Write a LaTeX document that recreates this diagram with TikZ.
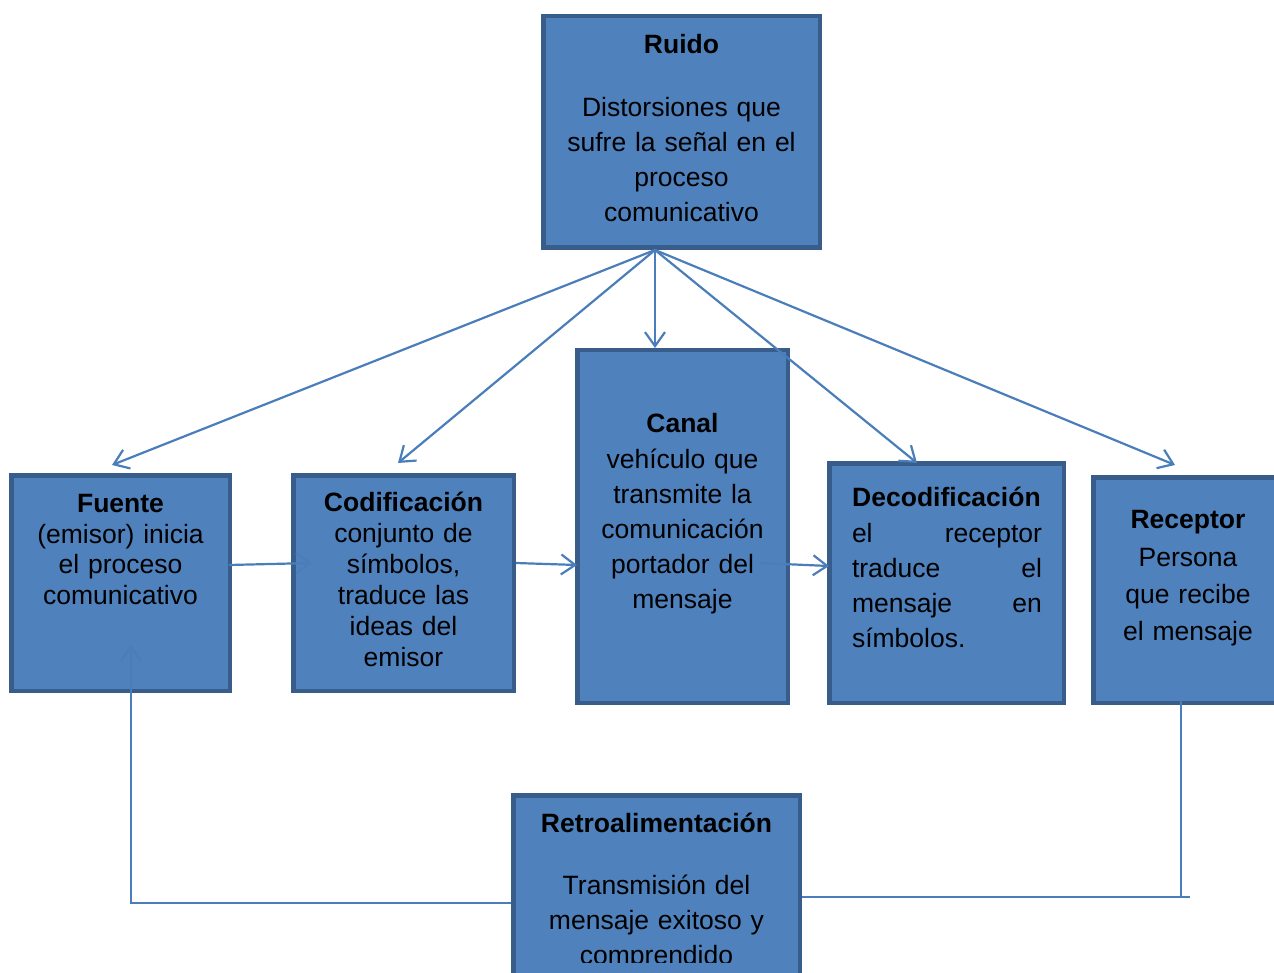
\documentclass[tikz,border=0pt]{standalone}
\usepackage{fontspec}
\setmainfont{Liberation Sans}
\usetikzlibrary{arrows.meta,calc}
\definecolor{boxfill}{HTML}{4F81BD}
\definecolor{boxline}{HTML}{385D8A}
\definecolor{conn}{HTML}{4A7EBB}
\begin{document}
\begin{tikzpicture}[x=1pt,y=-1pt,
  box/.style={draw=boxline,fill=boxfill,line width=4.5pt,rectangle,inner sep=0pt},
  ttl/.style={font=\fontsize{26.5}{35}\selectfont\bfseries,anchor=base,inner sep=0pt},
  body/.style={font=\fontsize{26.5}{35}\selectfont,anchor=base,align=center,inner sep=0pt,text width=250pt},
  arr/.style={draw=conn,line width=2.2pt,-{Straight Barb[length=14pt,width=20pt,line width=2.2pt]}},
  ln/.style={draw=conn,line width=1.6pt}]
\useasboundingbox (0,0) rectangle (1274,973);
\clip (0,0) rectangle (1274,973);
% boxes
\node[box,minimum width=276.5pt,minimum height=231.5pt] (ruido) at (681.5,132) {};
\node[box,minimum width=218.5pt,minimum height=215.5pt] (fuente) at (120.5,583) {};
\node[box,minimum width=220.5pt,minimum height=215.5pt] (codif) at (403.5,583) {};
\node[box,minimum width=210.5pt,minimum height=352.5pt] (canal) at (682.5,526.5) {};
\node[box,minimum width=234.5pt,minimum height=239.5pt] (decod) at (946.5,583) {};
\node[box,minimum width=189.5pt,minimum height=225.5pt] (recep) at (1188,590) {};
\node[box,minimum width=286.5pt,minimum height=212.5pt] (retro) at (656.5,901.5) {};
% texts
\node[ttl] (ruido-t) at (681.5,54) {Ruido};
\node[body] (ruido-b) at (681.5,117) {Distorsiones que\\sufre la señal en el\\proceso\\comunicativo};
\node[ttl] (fuente-t) at (120.5,512) {Fuente};
\node[body,font=\fontsize{26.5}{30.5}\selectfont] (fuente-b) at (120.5,543) {(emisor) inicia\\el proceso\\comunicativo};
\node[ttl] (codif-t) at (403.5,511) {Codificación};
\node[body,font=\fontsize{26.5}{31}\selectfont] (codif-b) at (403.5,542) {conjunto de\\símbolos,\\traduce las\\ideas del\\emisor};
\node[ttl] (canal-t) at (682.5,432) {Canal};
\node[body,font=\fontsize{26.5}{35.2}\selectfont] (canal-b) at (682.5,468) {vehículo que\\transmite la\\comunicación\\portador del\\mensaje};
\node[ttl,anchor=base west] (decod-t) at (852,506) {Decodificación};
\node[body,text width=190pt,align=left] (decod-b) at (947,542) {el\hfill receptor\\traduce\hfill el\\mensaje\hfill en\\símbolos.};
\node[ttl] (recep-t) at (1188,528) {Receptor};
\node[body,font=\fontsize{26.5}{37}\selectfont] (recep-b) at (1188,566) {Persona\\que recibe\\el mensaje};
\node[ttl] (retro-t) at (656.5,832) {Retroalimentación};
\begin{scope}
\clip (0,0) rectangle (1274,962);
\node[body] (retro-b) at (656.5,894) {Transmisión del\\mensaje exitoso y\\comprendido};
\end{scope}
% connectors from Ruido
\coordinate (rs) at ($(ruido.south)+(-26.5,0)$);
\draw[arr] (rs) -- ($(fuente.north)+(-8.5,-8)$);
\draw[arr] (rs) -- ($(codif.north)+(-5.5,-10)$);
\draw[arr] (rs) -- ($(canal.north)+(-27.5,0)$);
\draw[arr] (rs) -- ($(decod.north)+(-29.5,2)$);
\draw[arr] (rs) -- ($(recep.north)+(-13,-10)$);
% chain
\draw[arr] ($(fuente.east)+(-3,-18)$) -- ($(codif.west)+(21,-20)$);
\draw[arr] ($(codif.east)+(0,-20)$) -- ($(canal.west)+(2,38.5)$);
\draw[arr] ($(canal.east)+(-30,36.5)$) -- ($(decod.west)+(2,-17)$);
% feedback
\draw[arr] ($(retro.west)+(0,1.5)$) -| ($(fuente.south)+(10.5,-48)$);
\draw[ln] ($(retro.east)+(0,-4.5)$) -- ++(388,0);
\draw[ln] ($(recep.south)+(-7,-5)$) -- ++(0,197);
\end{tikzpicture}
\end{document}
